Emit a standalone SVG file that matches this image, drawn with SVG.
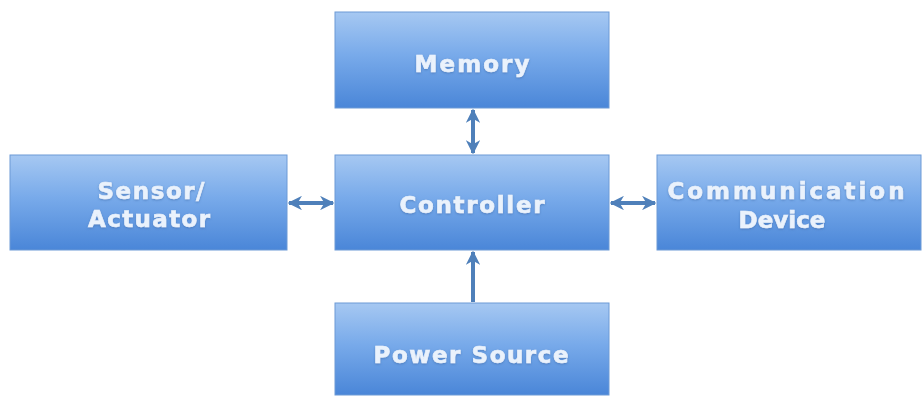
<svg xmlns="http://www.w3.org/2000/svg" width="923" height="396" viewBox="0 0 923 396">
<defs>
<linearGradient id="g" x1="0" y1="0" x2="0" y2="1">
<stop offset="0" stop-color="#a6c8f2"/>
<stop offset="0.45" stop-color="#78aaea"/>
<stop offset="1" stop-color="#4a86d8"/>
</linearGradient>
<marker id="ah" viewBox="0 0 10 10" refX="9" refY="5" markerWidth="3.6" markerHeight="3.6" orient="auto-start-reverse" markerUnits="strokeWidth">
<path d="M0,0 L10,5 L0,10 L3,5 Z" fill="#4f80ba"/>
</marker>
<filter id="sh" x="-10%" y="-20%" width="120%" height="150%">
<feDropShadow dx="0" dy="1" stdDeviation="1" flood-color="#3a6aa8" flood-opacity="0.6"/>
</filter>
</defs>
<style>
.box{fill:url(#g);stroke:#6c9ad6;stroke-width:1}
.t{font-family:"DejaVu Sans",sans-serif;font-weight:bold;font-size:23px;fill:#eaf2fc;stroke:#eaf2fc;stroke-width:0.6;text-anchor:middle;filter:url(#sh)}
.c{stroke:#4f80ba;stroke-width:4;fill:none}
</style>
<rect width="923" height="396" fill="#ffffff"/>
<g id="memory">
<rect class="box" x="335" y="12" width="274" height="96"/>
<text class="t" x="472" y="72" textLength="115" lengthAdjust="spacing">Memory</text>
</g>
<g id="controller">
<rect class="box" x="335" y="155" width="274" height="95"/>
<text class="t" x="472" y="213" textLength="145" lengthAdjust="spacing">Controller</text>
</g>
<g id="sensor">
<rect class="box" x="10" y="155" width="277" height="95"/>
<text class="t" x="151" y="199" textLength="107" lengthAdjust="spacing">Sensor/</text>
<text class="t" x="149" y="227" textLength="122" lengthAdjust="spacing">Actuator</text>
</g>
<g id="communication">
<rect class="box" x="657" y="155" width="264" height="95"/>
<text class="t" x="786" y="199" textLength="237" lengthAdjust="spacing">Communication</text>
<text class="t" x="782" y="228">Device</text>
</g>
<g id="power">
<rect class="box" x="335" y="303" width="274" height="92"/>
<text class="t" x="471" y="363" textLength="195" lengthAdjust="spacing">Power Source</text>
</g>
<g id="connectors">
<line class="c" x1="473" y1="110" x2="473" y2="153" marker-start="url(#ah)" marker-end="url(#ah)"/>
<line class="c" x1="289" y1="203" x2="333" y2="203" marker-start="url(#ah)" marker-end="url(#ah)"/>
<line class="c" x1="611" y1="203" x2="655" y2="203" marker-start="url(#ah)" marker-end="url(#ah)"/>
<line class="c" x1="473" y1="302" x2="473" y2="252" marker-end="url(#ah)"/>
</g>
</svg>
